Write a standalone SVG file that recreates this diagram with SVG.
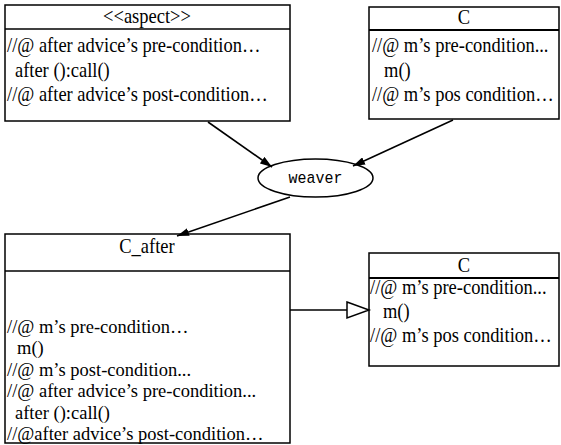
<svg xmlns="http://www.w3.org/2000/svg" width="561" height="445" viewBox="0 0 561 445">
<defs>
<style>
.box{fill:#fff;stroke:#000;stroke-width:1.5}
.sep{stroke:#000;stroke-width:1.5}
.sep2{stroke:#000;stroke-width:2.2}
.t{font-family:"Liberation Serif","Times New Roman",serif;font-size:21px;fill:#000}
.s{font-size:19px}
.c{text-anchor:middle}
.w{font-family:"Liberation Mono","DejaVu Sans Mono",monospace;font-size:17px;fill:#000;text-anchor:middle}
.ln{stroke:#000;stroke-width:1.6;fill:none}
</style>
<marker id="arr" viewBox="0 0 12 8" refX="12" refY="4" markerWidth="12" markerHeight="8" markerUnits="userSpaceOnUse" orient="auto">
<path d="M0,0 L12,4 L0,8 Z" fill="#000"/>
</marker>
</defs>
<g id="aspect">
<rect class="box" x="5" y="5" width="285" height="116"/>
<line class="sep" x1="5" y1="29" x2="290" y2="29"/>
<text class="t c" transform="scale(0.88 1)" x="167" y="23">&lt;&lt;aspect&gt;&gt;</text>
<text class="t" transform="scale(0.88 1)" x="8" y="52">//@ after advice’s pre-condition…</text>
<text class="t" transform="scale(0.88 1)" x="17" y="77">after ():call()</text>
<text class="t" transform="scale(0.88 1)" x="8" y="101">//@ after advice’s post-condition…</text>
</g>
<g id="C_top">
<rect class="box" x="369" y="7" width="190" height="112"/>
<line class="sep2" x1="369" y1="30" x2="559" y2="30"/>
<text class="t c" transform="scale(0.88 1)" x="527.3" y="24">C</text>
<text class="t" transform="scale(0.88 1)" x="422.7" y="52">//@ m’s pre-condition...</text>
<text class="t" transform="scale(0.88 1)" x="436.4" y="77">m()</text>
<text class="t" transform="scale(0.88 1)" x="422.7" y="101">//@ m’s pos condition…</text>
</g>
<g id="weaver">
<ellipse cx="315.5" cy="178" rx="57.5" ry="19" fill="#fff" stroke="#000" stroke-width="1.5"/>
<text class="w" transform="scale(0.88 1)" x="358.5" y="183.5">weaver</text>
</g>
<g id="C_after">
<rect class="box" x="5" y="234" width="285" height="209"/>
<line class="sep" x1="5" y1="271" x2="290" y2="271"/>
<text class="t c" transform="scale(0.88 1)" x="167" y="253">C_after</text>
<g transform="scale(0.974 1)">
<text class="t s" x="7.2" y="333">//@ m’s pre-condition…</text>
<text class="t s" x="17.5" y="354.5">m()</text>
<text class="t s" x="7.2" y="376">//@ m’s post-condition...</text>
<text class="t s" x="7.2" y="397.5">//@ after advice’s pre-condition...</text>
<text class="t s" x="15.4" y="419">after ():call()</text>
<text class="t s" x="7.2" y="440.5">//@after advice’s post-condition…</text>
</g>
</g>
<g id="C_right">
<rect class="box" x="369" y="253" width="190" height="113"/>
<line class="sep2" x1="369" y1="278" x2="559" y2="278"/>
<text class="t c" transform="scale(0.88 1)" x="527.3" y="272">C</text>
<text class="t" transform="scale(0.88 1)" x="420.5" y="294">//@ m’s pre-condition...</text>
<text class="t" transform="scale(0.88 1)" x="435.2" y="318">m()</text>
<text class="t" transform="scale(0.88 1)" x="420.5" y="342">//@ m’s pos condition…</text>
</g>
<g id="connectors">
<line class="ln" x1="208" y1="122" x2="272" y2="167" marker-end="url(#arr)"/>
<line class="ln" x1="453" y1="120" x2="353" y2="166" marker-end="url(#arr)"/>
<line class="ln" x1="290" y1="197" x2="177" y2="236" marker-end="url(#arr)"/>
<line class="ln" x1="290" y1="310" x2="347" y2="310"/>
<path d="M347,302 L369,310 L347,318 Z" fill="#fff" stroke="#000" stroke-width="1.5"/>
</g>
</svg>
